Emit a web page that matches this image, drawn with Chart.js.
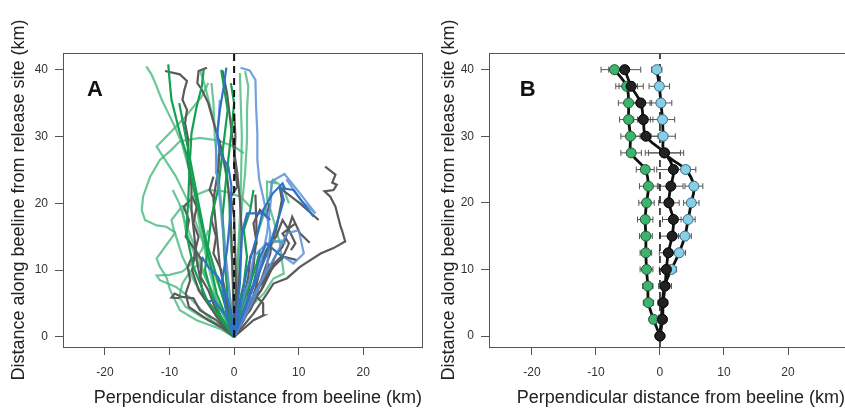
<!DOCTYPE html>
<html>
<head>
<meta charset="utf-8">
<script src="https://cdn.jsdelivr.net/npm/chart.js@4"></script>
<style>
  body { margin: 0; background: #fff; }
  #wrap { position: relative; width: 845px; height: 409px; overflow: hidden; }
  canvas { position: absolute; top: 0; }
  #chartA { left: 0; }
  #chartB { left: 430px; }
</style>
</head>
<body>
<div id="wrap">
  <canvas id="chartA" width="430" height="409"></canvas>
  <canvas id="chartB" width="421" height="409"></canvas>
</div>
<script>
// ---- panel A: individual tracks, [x, y] in km ----
const gray1 = [[0,0],[3,3.5],[5.1,6.5],[6.1,8],[8.2,8.8],[10.2,10.5],[13.4,12.5],[15.4,13.3],[17.2,14.3],[16.7,16],[16.5,16.5],[15.7,19.5],[14.9,21],[14,21.8],[15.4,22],[15.9,22.8],[15.2,23.1],[15.7,24.3],[14.1,25.5]];
const gray2 = [[0,0],[1.5,2.5],[3,5.5],[4.2,7],[5.1,9.5],[6.6,12.5],[7.5,13.5],[8.2,15.5],[9,18],[10.2,15.5],[11.7,14.1]];
const gray3 = [[0,0],[2,4],[3.2,5.5],[4,8],[5.6,12.5],[5.8,14],[6.6,16.5],[7.4,20.5],[7.1,22.3],[10.2,20],[13.1,17.5]];
const gray4 = [[0,0],[2.5,5.5],[4.6,8.5],[6.1,10.5],[7.7,12],[9.7,11.5]];
const gray5 = [[0,0],[0.5,5.5],[0.9,10.5],[1.2,15.5],[0.9,20.5],[0.5,24.5],[-0.1,28.5],[-0.6,32.5],[-1.1,36.5],[-1.8,39.9]];
const gray6 = [[0,0],[-2.7,3],[-4.8,6.5],[-5.8,11.5],[-6.2,15.5],[-6.6,19],[-6.6,22.5],[-7.2,26.5],[-7.1,29.5],[-7.6,32],[-7.3,34],[-8,35.5],[-7.7,37],[-7.3,38.3],[-8.4,39.3],[-10.7,39.8]];
const gray7 = [[0,0],[-0.2,8],[-0.4,14.5],[-0.6,19.5],[-1.1,24],[-1.9,28],[-3,31.5],[-4,35],[-5,37],[-5.7,38],[-5.5,39.8],[-4.2,40.3]];
const gray8 = [[0,0],[-2.7,2.5],[-5.3,4],[-6.3,5.8],[-8.1,6],[-9.2,6.5],[-9.7,5.9],[-8.4,5.8]];
const gray9 = [[0,0],[-1.1,5.5],[-2.2,10.5],[-2.7,15.5],[-3.2,20.5],[-2.4,25.5],[-2.2,29.5]];
const gray10 = [[0,0],[2,5.5],[3,10.5],[3.5,15.5],[3.3,21.3]];
const gray11 = [[0,0],[3,2.5],[4.6,3.25],[4.5,5],[3,6.5],[4.5,9],[5.5,11]];
const gray12 = [[0,0],[-3,3.5],[-5.5,7],[-6.5,10],[-6,13],[-7.5,15],[-7,17.5],[-7.8,19.5],[-6.8,20.5]];
const gray13 = [[0,0],[1.5,3],[3,6],[4,10],[5,13],[6.5,15],[7.5,17.5],[8.5,16],[9.5,14],[8.8,13]];
const gray14 = [[0,0],[-1.5,2],[-3,4.5],[-4,7],[-5.2,9],[-5,11.5],[-6,13],[-5.5,15],[-6.3,17],[-5.8,19.5],[-6.5,21]];
const gray15 = [[0,0],[-0.8,3],[-1.5,6.5],[-2,10],[-3.2,12.5],[-2.8,15],[-3.5,17.5],[-3,20.5],[-3.8,22],[-3.2,24]];
const gray16 = [[0,0],[1.2,2.5],[2.5,4],[3.5,6],[4.5,7.5],[5.5,9.5],[6.2,11],[7.8,12.5],[8.5,14],[7.5,15.5],[9.5,17]];
const gray17 = [[0,0],[0.8,3],[1.5,6],[2.2,9],[2.5,12],[3.5,14],[3,17],[4,19],[5,18],[5.5,20]];
const gray18 = [[0,0],[-2,1.5],[-4,2.5],[-5.5,3.5],[-7,4.5],[-7.5,6.5],[-6.8,8.5],[-7.2,10.5],[-6.5,12]];
const gray19 = [[0,0],[0.3,6],[0.2,12],[0,18],[-0.5,21],[0.5,22.5],[0,26],[0.2,30],[0,33.5]];

const blue1 = [[0,0],[3,5.5],[5.1,10.5],[5.6,15.5],[4.6,20.5],[3.9,23.5],[3.6,26.5],[3.6,30.5],[3.4,34.5],[3.3,38.5],[2.4,39.9],[1,40.3]];
const blue2 = [[0,0],[-1.1,3],[-1.9,8],[-1.1,13],[-0.6,18],[-0.4,22.5],[-0.9,25.5],[-2.2,27.5],[-2.6,30.5],[-2.2,34],[-1.6,37.5],[-1.2,40.3]];
const blue3 = [[0,0],[2,5.5],[4,10.5],[5.1,15.5],[5.7,20.5],[5.8,23.3],[7.8,24.4],[10.2,21.5],[12.6,18.5],[10.5,20.3],[8.1,23.6]];
const blue4 = [[0,0],[2,4.5],[4.6,9],[6.6,12.5],[8.2,15.5],[10,16],[10.8,12.5],[9.2,11],[7.7,12]];
const blue5 = [[0,0],[3,7.5],[5.1,12.5],[6.1,15.5],[7.1,18.5],[7.7,20.5],[7.2,22.3],[9.2,22],[12.3,18]];
const blue6 = [[0,0],[-1.1,3],[-3.2,5.5],[-4.2,5.25]];
const blue7 = [[0,0],[-0.6,5.5],[-1.1,10.5],[-1.7,15.5],[-2.2,20.5],[-2.7,24.5],[-2.8,28.5],[-2.4,32.5],[-2.2,35.5]];
const blue8 = [[0,0],[0.9,8],[1.2,15.5],[2,18.5],[4.6,18.5],[5.6,17.5]];
const blue9 = [[0,0],[1.5,4],[3,8],[4,12],[5,14],[7.5,12]];
const blue10 = [[0,0],[0.5,3],[1.5,6],[2.5,9],[3,12],[4.5,13.5],[6,14.5],[8,14]];
const blue11 = [[0,0],[-0.5,4],[-1.5,7],[-2.5,9],[-4,10.5],[-5,12]];
const blue12 = [[0,0],[1,5],[2,10],[3.5,15],[4.5,19],[6,21.5],[7.5,23],[8,22]];

const green1 = [[0,0],[-3,4],[-6,8],[-8,12],[-9.2,15.7],[-10.5,16.5],[-12,16.7],[-13.8,17.5],[-14.3,19],[-14.1,21],[-13,24],[-11.5,26.5],[-9.7,28],[-8.4,29.3],[-5.3,29.8],[-2.5,29.4],[0,28.5],[1.5,27.5]];
const green2 = [[0,0],[-2.7,5.5],[-4.2,11.5],[-5.3,16.5],[-6.1,21.5],[-7.1,25.5],[-8.1,29],[-9.2,31.5],[-10.2,33.5],[-11.2,35.5],[-12,37.5],[-12.8,39.3],[-13.6,40.5]];
const green3 = [[0,0],[-2.2,1.25],[-3.7,1.75],[-5.8,2.5],[-8.4,4],[-9.9,7],[-10.5,9],[-11.5,10.5],[-12,11.75],[-10.5,13.75],[-9.2,15.5],[-9.7,17.5],[-7.9,19.75]];
const green4 = [[0,0],[-3,2],[-5,4],[-7,6],[-9,7.5],[-11.5,8.5],[-12,9.2],[-10,9.3],[-8,9.8],[-6.5,11],[-5,13],[-4,16]];
const green5 = [[0,0],[-0.1,8],[-0.6,15.5],[-0.9,22.5],[-1.7,26.5],[-2.7,30.5],[-3.7,34.5],[-4.5,37.5],[-5.3,40]];
const green6 = [[0,0],[0.7,13],[1.2,19.5],[1.7,24.5],[2,29.5],[2,34],[2.2,37.5],[1.7,39.8]];
const green7 = [[0,0],[2,4],[4.6,6.5],[6.1,8.75],[7.7,9.5],[7.4,11.5],[7.1,14],[6.1,17.5],[5.2,20.5],[5.1,23.25],[6.6,23]];
const green8 = [[0,0],[-2,4],[-4,8],[-6,12],[-7.5,16],[-8,19],[-6.5,21],[-4,22],[-1.5,21.8],[1,21],[2.5,19.5]];
const green9 = [[0,0],[-1,4],[-2.5,8],[-4,12],[-5.5,16],[-7,20],[-9,24],[-11,27],[-12,28.5],[-10,30.5],[-7.5,33],[-5,36],[-4,38]];
const green10 = [[0,0],[2,5],[3.5,9],[4.5,12],[5.5,14],[7.5,14.5]];
const green11 = [[0,0],[0.5,10],[1,20],[1.2,30],[1,36],[0.9,39.5]];
const green12 = [[0,0],[-1.5,3],[-3,6],[-4.5,9],[-5.5,12],[-6.5,14.5],[-7.5,17],[-8.5,20],[-9.5,22]];
const green13 = [[0,0],[-0.5,5],[-1.2,10],[-1.5,15],[-2,20],[-2.5,25],[-3,30],[-3.2,35],[-3.5,38]];
const green14 = [[0,0],[1,3],[2,7],[3,11],[3.5,15],[4.5,18],[5.5,21],[6,23.5],[7.5,22.5],[8.5,20]];
const green15 = [[0,0],[-2.5,2],[-5,3],[-7.5,4.5],[-8.5,6],[-8,8],[-7,9.5],[-5.5,11]];

const darkGreen1 = [[0,0],[-2.7,6.5],[-4.2,13],[-5.3,18],[-6.3,22.5],[-7.1,26.5],[-8.4,30.5],[-9.7,35.5],[-10,38.5],[-10.2,40.8]];
const darkGreen2 = [[0,0],[-4.2,5.5],[-6.3,10.5],[-7.4,15.5],[-7.1,20.5],[-6.9,25.5],[-6.6,30.5],[-5.8,34.5],[-5,37.5],[-4.7,40.1]];
const darkGreen3 = [[0,0],[-1.5,5],[-3,10],[-4.5,15],[-5.5,20],[-6.5,25],[-7.5,30],[-8.5,35]];
const darkGreen4 = [[0,0],[-1,6],[-1.5,12],[-1.8,18],[-1.2,24],[-0.5,30],[0,35],[-0.5,38]];
const darkGreen5 = [[0,0],[1,4],[2.5,8],[3.5,11],[4,13]];
const darkGreen6 = [[0,0],[-2,3],[-3.5,6.5],[-4.5,10],[-4,14],[-3.5,18],[-2.5,22],[-2,26],[-1.5,30],[-1,34],[-1.5,37],[-2,40]];
const darkGreen7 = [[0,0],[0.5,4],[1.5,8],[2,12],[1.5,16],[2.5,19],[3,22]];

const grayTracks = [gray1, gray2, gray3, gray4, gray5, gray6, gray7, gray8, gray9, gray10, gray11, gray12, gray13, gray14, gray15, gray16, gray17, gray18, gray19];
const blueTracks = [blue1, blue3, blue4, blue7, blue10];
const darkBlueTracks = [blue2, blue5, blue6, blue8, blue9, blue11, blue12];
const greenTracks = [green1, green2, green3, green4, green5, green6, green7, green8, green9, green10, green11, green12, green13, green14, green15];
const darkGreenTracks = [darkGreen1, darkGreen2, darkGreen3, darkGreen4, darkGreen5, darkGreen6, darkGreen7];

// ---- panel B: mean perpendicular distance per 2.5 km bin ----
const beelineDist = [0, 2.5, 5, 7.5, 10, 12.5, 15, 17.5, 20, 22.5, 25, 27.5, 30, 32.5, 35, 37.5, 40];
const greenMean = [0, -1.0, -1.8, -1.9, -2.1, -2.2, -2.2, -2.3, -2.1, -1.8, -2.3, -4.5, -4.6, -4.9, -4.9, -5.2, -7.1];
const blackMean = [0, 0.4, 0.5, 0.8, 1.0, 1.3, 1.9, 2.1, 1.4, 1.7, 2.1, 0.7, -2.2, -2.6, -3.0, -4.5, -5.5];
const blueMean = [0, 0.2, 0.4, 0.7, 1.8, 3.0, 3.9, 4.4, 4.9, 5.3, 4.0, 0.7, 0.5, 0.4, 0.15, -0.1, -0.5];
const greenErr = [0, 0.5, 0.8, 0.8, 1.0, 0.9, 1.0, 1.2, 1.2, 1.4, 1.4, 1.6, 1.5, 1.4, 1.6, 1.7, 2.1];
const blackErr = [0, 0.5, 0.7, 1.0, 1.1, 1.4, 1.9, 1.7, 1.6, 1.9, 2.6, 3.0, 1.9, 1.5, 1.7, 1.9, 2.5];
const blueErr = [0, 0.5, 0.7, 0.8, 0.8, 1.0, 1.0, 1.1, 1.2, 1.4, 1.6, 2.5, 1.9, 1.9, 1.7, 1.6, 0.8];

const xTicks = [-20, -10, 0, 10, 20];
const yTicks = [0, 10, 20, 30, 40];

const FONT = "'Liberation Sans', Arial, sans-serif";

const toXY = pts => pts.map(p => ({ x: p[0], y: p[1] }));

function trackSets(tracks, color) {
  return tracks.map(t => ({
    data: toXY(t),
    showLine: true,
    borderColor: color,
    borderWidth: 2.2,
    pointRadius: 0,
    tension: 0
  }));
}

const boxPlugin = {
  id: 'box',
  afterDraw(chart) {
    const { ctx, chartArea: a } = chart;
    ctx.save();
    ctx.strokeStyle = '#555';
    ctx.lineWidth = 1;
    ctx.strokeRect(a.left + 0.5, a.top + 0.5, a.right - a.left, a.bottom - a.top);
    ctx.restore();
  }
};

const panelLabel = {
  id: 'panelLabel',
  afterDraw(chart, args, opts) {
    const { ctx, scales } = chart;
    ctx.save();
    ctx.font = 'bold 22px ' + FONT;
    ctx.fillStyle = '#111';
    ctx.textAlign = 'left';
    ctx.textBaseline = 'middle';
    ctx.fillText(opts.text, scales.x.getPixelForValue(opts.x), scales.y.getPixelForValue(opts.y));
    ctx.restore();
  }
};

const errorBars = {
  id: 'errorBars',
  beforeDatasetsDraw(chart, args, opts) {
    const { ctx, scales } = chart;
    ctx.save();
    ctx.strokeStyle = '#555';
    ctx.lineWidth = 1;
    opts.series.forEach(s => {
      s.mean.forEach((m, i) => {
        if (!s.err[i]) return;
        const y = scales.y.getPixelForValue(beelineDist[i]);
        const x0 = scales.x.getPixelForValue(m - s.err[i]);
        const x1 = scales.x.getPixelForValue(m + s.err[i]);
        ctx.beginPath();
        ctx.moveTo(x0, y); ctx.lineTo(x1, y);
        ctx.moveTo(x0, y - 3); ctx.lineTo(x0, y + 3);
        ctx.moveTo(x1, y - 3); ctx.lineTo(x1, y + 3);
        ctx.stroke();
      });
    });
    ctx.restore();
  }
};

function axes(xMin, xMax, yMin, yMax, yWidth) {
  return {
    x: {
      type: 'linear', min: xMin, max: xMax,
      afterBuildTicks: s => { s.ticks = xTicks.map(v => ({ value: v })); },
      afterFit: s => { s.height = 62; },
      grid: { drawOnChartArea: false, tickLength: 8, color: '#555' },
      border: { color: '#555' },
      ticks: { color: '#333', font: { family: FONT, size: 12 }, padding: 10, maxRotation: 0 },
      title: {
        display: true, text: 'Perpendicular distance from beeline (km)', align: 'end',
        color: '#222', font: { family: FONT, size: 18 }, padding: { top: 1, bottom: 0 }
      }
    },
    y: {
      type: 'linear', min: yMin, max: yMax,
      afterBuildTicks: s => { s.ticks = yTicks.map(v => ({ value: v })); },
      afterFit: s => { s.width = yWidth; },
      grid: { drawOnChartArea: false, tickLength: 8, color: '#555' },
      border: { color: '#555' },
      ticks: { color: '#333', font: { family: FONT, size: 12 }, padding: 7 },
      title: {
        display: true, text: 'Distance along beeline from release site (km)',
        color: '#222', font: { family: FONT, size: 18 }, padding: { top: 8, bottom: 0 }
      }
    }
  };
}

const commonOpts = {
  responsive: false,
  animation: false,
  devicePixelRatio: 1,
  events: []
};

// panel A
new Chart(document.getElementById('chartA'), {
  type: 'scatter',
  data: {
    datasets: [
      {
        data: [{ x: 0, y: 0 }, { x: 0, y: 42.5 }],
        showLine: true, borderColor: '#111', borderWidth: 2, borderDash: [7, 5], pointRadius: 0
      },
      ...trackSets(darkBlueTracks, '#2f72c6'),
      ...trackSets(blueTracks, 'rgba(90,145,215,0.85)'),
      ...trackSets(darkGreenTracks, '#14a050'),
      ...trackSets(grayTracks, '#5a5a5a'),
      ...trackSets(greenTracks, 'rgba(70,185,125,0.8)')
    ]
  },
  options: {
    ...commonOpts,
    layout: { padding: { top: 53, right: 8, left: 0, bottom: 0 } },
    scales: axes(-26.5, 29.1, -1.5, 42.5, 63),
    plugins: {
      legend: { display: false }, tooltip: { enabled: false },
      panelLabel: { text: 'A', x: -22.8, y: 37 }
    }
  },
  plugins: [boxPlugin, panelLabel]
});

// panel B
function meanLine(mean) {
  return {
    data: mean.map((m, i) => ({ x: m, y: beelineDist[i] })),
    showLine: true, borderColor: '#111', borderWidth: 2.8, pointRadius: 0, tension: 0.35
  };
}
function meanPoints(mean, fill, edge) {
  return {
    data: mean.map((m, i) => ({ x: m, y: beelineDist[i] })),
    showLine: false, pointRadius: 5, pointBackgroundColor: fill, pointBorderColor: edge, pointBorderWidth: 1
  };
}

new Chart(document.getElementById('chartB'), {
  type: 'scatter',
  data: {
    datasets: [
      meanPoints(blackMean, '#222', '#000'),
      meanPoints(blueMean, '#86cfe6', '#3b6b80'),
      meanPoints(greenMean, '#3cb46e', '#1f5a36'),
      meanLine(blackMean),
      meanLine(blueMean),
      meanLine(greenMean),
      {
        data: [{ x: 0, y: -1.65 }, { x: 0, y: 42.5 }],
        showLine: true, borderColor: '#111', borderWidth: 1.5, borderDash: [7, 5], pointRadius: 0
      }
    ]
  },
  options: {
    ...commonOpts,
    layout: { padding: { top: 53, right: 0, left: 0, bottom: 0 } },
    scales: axes(-26.7, 28.9, -1.65, 42.5, 59),
    plugins: {
      legend: { display: false }, tooltip: { enabled: false },
      panelLabel: { text: 'B', x: -21.9, y: 37 },
      errorBars: {
        series: [
          { mean: greenMean, err: greenErr },
          { mean: blackMean, err: blackErr },
          { mean: blueMean, err: blueErr }
        ]
      }
    }
  },
  plugins: [boxPlugin, panelLabel, errorBars]
});
</script>
</body>
</html>
